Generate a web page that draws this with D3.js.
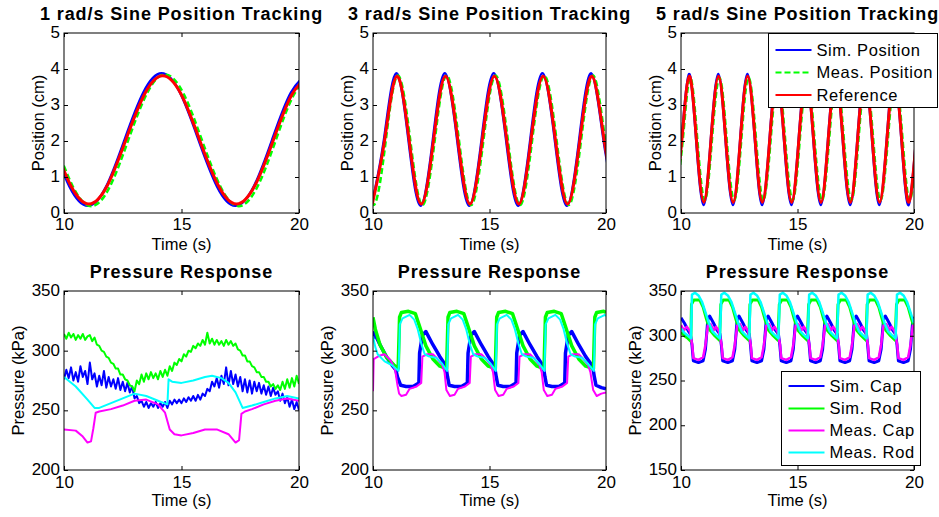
<!DOCTYPE html>
<html>
<head>
<meta charset="utf-8">
<script src="https://cdn.jsdelivr.net/npm/d3@7"></script>
<style>
  body { margin: 0px; background: white; }
  text { font-family: "Liberation Sans", Arial, Helvetica, sans-serif; fill: black; }
</style>
</head>
<body>
<svg id="fig" width="939" height="517"></svg>
<script>
// ---------- data ----------
var xTicks = [10, 15, 20];
var posTicks = [0, 1, 2, 3, 4, 5];
var presTicks = [200, 250, 300, 350];
var presTicks6 = [150, 200, 250, 300, 350];
var topTitles = ["1 rad/s Sine Position Tracking", "3 rad/s Sine Position Tracking", "5 rad/s Sine Position Tracking"];
var posNames = ["Sim. Position", "Meas. Position", "Reference"];
var presNames = ["Sim. Cap", "Sim. Rod", "Meas. Cap", "Meas. Rod"];

// 1 rad/s position
var p1RefT = [9.49, 10.28, 11.06, 11.85, 12.63, 13.42, 14.2, 14.99, 15.77, 16.56, 17.34, 18.13, 18.91, 19.7, 20.48];
var p1RefV = [2.03, 0.77, 0.25, 0.77, 2.03, 3.29, 3.81, 3.29, 2.03, 0.77, 0.25, 0.77, 2.03, 3.29, 3.81];
var p1SimT = [9.44, 10.23, 11.01, 11.8, 12.58, 13.37, 14.15, 14.94, 15.72, 16.51, 17.29, 18.08, 18.86, 19.65, 20.43];
var p1SimV = [2.04, 0.74, 0.2, 0.74, 2.04, 3.34, 3.88, 3.34, 2.04, 0.74, 0.2, 0.74, 2.04, 3.34, 3.88];
var p1MeasT = [9.59, 10.38, 11.16, 11.95, 12.73, 13.52, 14.3, 15.09, 15.87, 16.66, 17.44, 18.23, 19.01, 19.8, 20.58];
var p1MeasV = [2.02, 0.73, 0.19, 0.73, 2.02, 3.31, 3.85, 3.31, 2.02, 0.73, 0.19, 0.73, 2.02, 3.31, 3.85];

// 3 rad/s position
var p2RefT = [9.97, 10.5, 11.02, 11.55, 12.07, 12.6, 13.11, 13.64, 14.16, 14.69, 15.21, 15.74, 16.26, 16.78, 17.3, 17.83, 18.35, 18.88, 19.4, 19.92, 20.45];
var p2RefV = [0.25, 2.03, 3.8, 2.03, 0.25, 2.03, 3.8, 2.03, 0.25, 2.03, 3.8, 2.03, 0.25, 2.03, 3.8, 2.03, 0.25, 2.03, 3.8, 2.03, 0.25];
var p2SimT = [9.94, 10.47, 10.99, 11.52, 12.04, 12.57, 13.08, 13.61, 14.13, 14.66, 15.18, 15.71, 16.23, 16.75, 17.27, 17.8, 18.32, 18.85, 19.37, 19.89, 20.42];
var p2SimV = [0.2, 2.04, 3.88, 2.04, 0.2, 2.04, 3.88, 2.04, 0.2, 2.04, 3.88, 2.04, 0.2, 2.04, 3.88, 2.04, 0.2, 2.04, 3.88, 2.04, 0.2];
var p2MeasT = [9.5, 10.02, 10.55, 11.07, 11.6, 12.12, 12.65, 13.16, 13.69, 14.21, 14.74, 15.26, 15.79, 16.31, 16.83, 17.35, 17.88, 18.4, 18.93, 19.45, 19.97, 20.5];
var p2MeasV = [2.02, 0.22, 2.02, 3.82, 2.02, 0.22, 2.02, 3.82, 2.02, 0.22, 2.02, 3.82, 2.02, 0.22, 2.02, 3.82, 2.02, 0.22, 2.02, 3.82, 2.02, 0.22];

// 5 rad/s position
var p3RefT = [9.72, 10.04, 10.35, 10.66, 10.98, 11.29, 11.61, 11.92, 12.24, 12.55, 12.86, 13.18, 13.49, 13.81, 14.12, 14.43, 14.75, 15.06, 15.38, 15.69, 16.01, 16.32, 16.64, 16.95, 17.27, 17.58, 17.89, 18.21, 18.52, 18.84, 19.15, 19.47, 19.78, 20.1, 20.41];
var p3RefV = [0.3, 2.05, 3.8, 2.05, 0.3, 2.05, 3.8, 2.05, 0.3, 2.05, 3.8, 2.05, 0.3, 2.05, 3.8, 2.05, 0.3, 2.05, 3.8, 2.05, 0.3, 2.05, 3.8, 2.05, 0.3, 2.05, 3.8, 2.05, 0.3, 2.05, 3.8, 2.05, 0.3, 2.05, 3.8];
var p3SimT = [9.71, 10.03, 10.34, 10.65, 10.97, 11.28, 11.6, 11.91, 12.23, 12.54, 12.85, 13.17, 13.48, 13.8, 14.11, 14.42, 14.74, 15.05, 15.37, 15.68, 16.0, 16.31, 16.63, 16.94, 17.26, 17.57, 17.88, 18.2, 18.51, 18.83, 19.14, 19.46, 19.77, 20.09, 20.4];
var p3SimV = [0.22, 2.04, 3.86, 2.04, 0.22, 2.04, 3.86, 2.04, 0.22, 2.04, 3.86, 2.04, 0.22, 2.04, 3.86, 2.04, 0.22, 2.04, 3.86, 2.04, 0.22, 2.04, 3.86, 2.04, 0.22, 2.04, 3.86, 2.04, 0.22, 2.04, 3.86, 2.04, 0.22, 2.04, 3.86];
var p3MeasT = [9.76, 10.08, 10.39, 10.7, 11.02, 11.33, 11.65, 11.96, 12.28, 12.59, 12.9, 13.22, 13.53, 13.85, 14.16, 14.47, 14.79, 15.1, 15.42, 15.73, 16.05, 16.36, 16.68, 16.99, 17.31, 17.62, 17.93, 18.25, 18.56, 18.88, 19.19, 19.51, 19.82, 20.14, 20.45];
var p3MeasV = [0.35, 2.05, 3.76, 2.05, 0.35, 2.05, 3.76, 2.05, 0.35, 2.05, 3.76, 2.05, 0.35, 2.05, 3.76, 2.05, 0.35, 2.05, 3.76, 2.05, 0.35, 2.05, 3.76, 2.05, 0.35, 2.05, 3.76, 2.05, 0.35, 2.05, 3.76, 2.05, 0.35, 2.05, 3.76];

// 1 rad/s pressure (sim traces sampled every 0.1 s)
var p4T = [10,10.1,10.2,10.3,10.4,10.5,10.6,10.7,10.8,10.9,11,11.1,11.2,11.3,11.4,11.5,11.6,11.7,11.8,11.9,
  12,12.1,12.2,12.3,12.4,12.5,12.6,12.7,12.8,12.9,13,13.1,13.2,13.3,13.4,13.5,13.6,13.7,13.8,13.9,
  14,14.1,14.2,14.3,14.4,14.5,14.6,14.7,14.8,14.9,15,15.1,15.2,15.3,15.4,15.5,15.6,15.7,15.8,15.9,
  16,16.1,16.2,16.3,16.4,16.5,16.6,16.7,16.8,16.9,17,17.1,17.2,17.3,17.4,17.5,17.6,17.7,17.8,17.9,
  18,18.1,18.2,18.3,18.4,18.5,18.6,18.7,18.8,18.9,19,19.1,19.2,19.3,19.4,19.5,19.6,19.7,19.8,19.9,20];
var p4SimCap = [276,284,277,286,275,282,274,287,278,283, 272,290,276,281,270,279,271,283,269,278,
  270,276,268,277,267,274,266,273,265,270, 260,262,256,258,253,257,252,256,253,257,
  252,256,253,257,252,258,255,259,256,259, 256,260,257,261,258,262,258,263,259,264,
  262,268,266,274,270,277,269,279,272,286, 271,283,272,280,270,278,266,276,265,275,
  264,274,266,273,264,271,263,270,262,269, 263,266,258,264,256,261,253,259,251,257, 250];
var p4SimRod = [314,310,315,311,314,309,313,310,314,309, 312,313,308,311,305,304,300,299,295,294,
  290,289,285,285,280,280,276,275,271,270, 266,275,272,280,274,281,276,282,277,281,
  276,283,278,284,279,287,283,290,288,293, 291,297,295,300,299,304,302,306,304,309,
  305,315,306,310,305,309,305,308,304,309, 305,308,304,306,301,300,296,296,291,291,
  287,286,282,282,278,278,274,274,270,272, 268,271,267,274,268,276,269,277,270,279, 272];
var p4MeasCapT = [10, 10.5, 10.8, 11.0, 11.15, 11.25, 11.35, 11.5, 12, 12.5, 13, 13.5, 14, 14.3, 14.5, 14.7, 15, 15.5, 16, 16.5, 17, 17.3, 17.45, 17.55, 17.7, 18, 18.5, 19, 19.5, 20];
var p4MeasCap = [234, 233, 228, 223, 224, 235, 248, 249, 251, 254, 258, 259, 255, 248, 234, 230, 229, 231, 234, 234, 230, 223, 225, 247, 249, 251, 255, 258, 260, 258];
var p4MeasRodT = [10, 10.5, 11, 11.3, 11.5, 12, 12.5, 13, 13.5, 14, 14.4, 14.45, 14.6, 15, 15.5, 16, 16.3, 16.7, 17, 17.3, 17.6, 18, 18.5, 19, 19.5, 20];
var p4MeasRod = [278, 270, 259, 252, 252, 256, 260, 264, 262, 258, 255, 276, 274, 273, 275, 278, 279, 277, 273, 265, 252, 254, 257, 260, 262, 260];

// 3 rad/s pressure
var p5SimCapT = [10.0, 10.05, 10.3, 10.6, 10.85, 10.98, 11.05, 11.19, 11.42, 11.72, 11.97, 12.0, 12.12, 12.27, 12.57, 12.87, 13.07,
  13.15, 13.2, 13.27, 13.5, 13.8, 14.05, 14.08, 14.2, 14.35, 14.65, 14.95, 15.15,
  15.24, 15.29, 15.36, 15.59, 15.89, 16.14, 16.17, 16.29, 16.44, 16.74, 17.04, 17.24,
  17.33, 17.38, 17.45, 17.68, 17.98, 18.23, 18.26, 18.38, 18.53, 18.83, 19.13, 19.35,
  19.45, 19.5, 19.57, 19.8, 20.0];
var p5SimCap = [310, 315, 305, 294, 287, 284, 278, 271, 270, 270, 273, 298, 313, 316, 305, 295, 289,
  284, 278, 271, 270, 270, 273, 298, 313, 316, 305, 295, 289,
  284, 278, 271, 270, 270, 273, 298, 313, 316, 305, 295, 289,
  284, 278, 271, 270, 270, 273, 298, 313, 316, 305, 295, 289,
  284, 278, 271, 269, 268];
var p5SimRodT = [10.0, 10.1, 10.3, 10.6, 10.9, 11.08,
  11.14, 11.22, 11.52, 11.82, 11.97, 12.27, 12.57, 12.87, 13.16,
  13.22, 13.3, 13.6, 13.9, 14.05, 14.35, 14.65, 14.95, 15.25,
  15.31, 15.39, 15.69, 15.99, 16.14, 16.44, 16.74, 17.04, 17.34,
  17.4, 17.48, 17.78, 18.08, 18.23, 18.53, 18.83, 19.13, 19.46,
  19.52, 19.6, 19.9, 20.0];
var p5SimRod = [328, 318, 305, 294, 288, 285,
  328, 332, 333, 331, 322, 304, 293, 287, 285,
  328, 332, 333, 331, 322, 304, 293, 287, 285,
  328, 332, 333, 331, 322, 304, 293, 287, 285,
  328, 332, 333, 331, 322, 304, 293, 287, 285,
  328, 332, 333, 332];
var p5MeasCapT = [10.0, 10.03, 10.3, 10.5, 10.75, 10.95, 11.05, 11.12,
  11.22, 11.42, 11.57, 11.87, 12.07, 12.12, 12.32, 12.57, 12.77, 12.97, 13.07, 13.15,
  13.3, 13.5, 13.65, 13.95, 14.15, 14.2, 14.4, 14.65, 14.85, 15.05, 15.15, 15.24,
  15.39, 15.59, 15.74, 16.04, 16.24, 16.29, 16.49, 16.74, 16.94, 17.14, 17.24, 17.33,
  17.48, 17.68, 17.83, 18.13, 18.33, 18.38, 18.58, 18.83, 19.03, 19.23, 19.33, 19.45,
  19.6, 19.8, 20.0];
var p5MeasCap = [266, 293, 296, 297, 292, 284, 271, 264,
  262, 263, 268, 270, 273, 295, 297, 297, 293, 288, 282, 267,
  262, 263, 268, 270, 273, 295, 297, 297, 293, 288, 282, 267,
  262, 263, 268, 270, 273, 295, 297, 297, 293, 288, 282, 267,
  262, 263, 268, 270, 273, 295, 297, 297, 293, 288, 282, 267,
  262, 264, 265];
var p5MeasRodT = [10.0, 10.1, 10.2, 10.5, 10.8, 11.1,
  11.15, 11.27, 11.57, 11.77, 11.92, 12.07, 12.22, 12.42, 12.72, 12.97, 13.18,
  13.23, 13.35, 13.65, 13.85, 14.0, 14.15, 14.3, 14.5, 14.8, 15.05, 15.27,
  15.32, 15.44, 15.74, 15.94, 16.09, 16.24, 16.39, 16.59, 16.89, 17.14, 17.36,
  17.41, 17.53, 17.83, 18.03, 18.18, 18.33, 18.48, 18.68, 18.98, 19.23, 19.48,
  19.53, 19.65, 19.95, 20.0];
var p5MeasRod = [312, 303, 297, 291, 288, 283,
  322, 327, 330, 326, 318, 306, 297, 295, 294, 289, 283,
  322, 327, 330, 326, 318, 306, 297, 295, 294, 289, 283,
  322, 327, 330, 326, 318, 306, 297, 295, 294, 289, 283,
  322, 327, 330, 326, 318, 306, 297, 295, 294, 289, 283,
  322, 327, 330, 329];

// 5 rad/s pressure
var p6SimCapT = [10.0, 10.15, 10.3, 10.4,
  10.47, 10.53, 10.75, 10.95, 11.05, 11.15, 11.23, 11.4, 11.55, 11.67,
  11.73, 11.79, 12.01, 12.21, 12.31, 12.41, 12.49, 12.66, 12.81, 12.93,
  12.98, 13.04, 13.26, 13.46, 13.56, 13.66, 13.74, 13.91, 14.06, 14.18,
  14.24, 14.3, 14.52, 14.72, 14.82, 14.92, 15.0, 15.17, 15.32, 15.44,
  15.5, 15.56, 15.78, 15.98, 16.08, 16.18, 16.26, 16.43, 16.58, 16.7,
  16.76, 16.82, 17.04, 17.24, 17.34, 17.44, 17.52, 17.69, 17.84, 17.96,
  18.01, 18.07, 18.29, 18.49, 18.59, 18.69, 18.77, 18.94, 19.09, 19.21,
  19.27, 19.33, 19.55, 19.75, 19.85, 19.95, 20.0];
var p6SimCap = [320, 314, 306, 302,
  290, 272, 270, 272, 285, 318, 322, 314, 306, 302,
  290, 272, 270, 272, 285, 318, 322, 314, 306, 302,
  290, 272, 270, 272, 285, 318, 322, 314, 306, 302,
  290, 272, 270, 272, 285, 318, 322, 314, 306, 302,
  290, 272, 270, 272, 285, 318, 322, 314, 306, 302,
  290, 272, 270, 272, 285, 318, 322, 314, 306, 302,
  290, 272, 270, 272, 285, 318, 322, 314, 306, 302,
  290, 272, 270, 272, 285, 318, 321];
var p6SimRodT = [10.0, 10.15, 10.3, 10.42,
  10.45, 10.55, 10.8, 10.95, 11.1, 11.25, 11.45, 11.65,
  11.71, 11.81, 12.06, 12.21, 12.36, 12.51, 12.71, 12.91,
  12.96, 13.06, 13.31, 13.46, 13.61, 13.76, 13.96, 14.16,
  14.22, 14.32, 14.57, 14.72, 14.87, 15.02, 15.22, 15.42,
  15.48, 15.58, 15.83, 15.98, 16.13, 16.28, 16.48, 16.68,
  16.74, 16.84, 17.09, 17.24, 17.39, 17.54, 17.74, 17.94,
  17.99, 18.09, 18.34, 18.49, 18.64, 18.79, 18.99, 19.19,
  19.25, 19.35, 19.6, 19.75, 19.9, 20.0];
var p6SimRod = [304, 300, 297, 294,
  335, 340, 340, 332, 318, 306, 300, 295,
  335, 340, 340, 332, 318, 306, 300, 295,
  335, 340, 340, 332, 318, 306, 300, 295,
  335, 340, 340, 332, 318, 306, 300, 295,
  335, 340, 340, 332, 318, 306, 300, 295,
  335, 340, 340, 332, 318, 306, 300, 295,
  335, 340, 340, 332, 318, 306, 300, 295,
  335, 340, 340, 332, 318, 310];
var p6MeasCapT = [10.0, 10.12, 10.25, 10.38,
  10.48, 10.53, 10.75, 10.95, 11.05, 11.15, 11.27, 11.4, 11.5, 11.63,
  11.74, 11.79, 12.01, 12.21, 12.31, 12.41, 12.53, 12.66, 12.76, 12.89,
  12.99, 13.04, 13.26, 13.46, 13.56, 13.66, 13.78, 13.91, 14.01, 14.14,
  14.25, 14.3, 14.52, 14.72, 14.82, 14.92, 15.04, 15.17, 15.27, 15.4,
  15.51, 15.56, 15.78, 15.98, 16.08, 16.18, 16.3, 16.43, 16.53, 16.66,
  16.77, 16.82, 17.04, 17.24, 17.34, 17.44, 17.56, 17.69, 17.79, 17.92,
  18.02, 18.07, 18.29, 18.49, 18.59, 18.69, 18.81, 18.94, 19.04, 19.17,
  19.28, 19.33, 19.55, 19.75, 19.85, 19.95, 20.0];
var p6MeasCap = [312, 306, 310, 305,
  290, 275, 273, 276, 290, 311, 313, 306, 310, 305,
  290, 275, 273, 276, 290, 311, 313, 306, 310, 305,
  290, 275, 273, 276, 290, 311, 313, 306, 310, 305,
  290, 275, 273, 276, 290, 311, 313, 306, 310, 305,
  290, 275, 273, 276, 290, 311, 313, 306, 310, 305,
  290, 275, 273, 276, 290, 311, 313, 306, 310, 305,
  290, 275, 273, 276, 290, 311, 313, 306, 310, 305,
  290, 275, 273, 276, 290, 311, 312];
var p6MeasRodT = [10.0, 10.15, 10.3, 10.43,
  10.47, 10.6, 10.75, 10.9, 11.05, 11.2, 11.35, 11.5, 11.67,
  11.73, 11.86, 12.01, 12.16, 12.31, 12.46, 12.61, 12.76, 12.93,
  12.98, 13.11, 13.26, 13.41, 13.56, 13.71, 13.86, 14.01, 14.18,
  14.24, 14.37, 14.52, 14.67, 14.82, 14.97, 15.12, 15.27, 15.44,
  15.5, 15.63, 15.78, 15.93, 16.08, 16.23, 16.38, 16.53, 16.7,
  16.76, 16.89, 17.04, 17.19, 17.34, 17.49, 17.64, 17.79, 17.96,
  18.01, 18.14, 18.29, 18.44, 18.59, 18.74, 18.89, 19.04, 19.21,
  19.27, 19.4, 19.55, 19.7, 19.85, 20.0];
var p6MeasRod = [308, 303, 300, 297,
  346, 348, 345, 338, 326, 314, 305, 301, 297,
  346, 348, 345, 338, 326, 314, 305, 301, 297,
  346, 348, 345, 338, 326, 314, 305, 301, 297,
  346, 348, 345, 338, 326, 314, 305, 301, 297,
  346, 348, 345, 338, 326, 314, 305, 301, 297,
  346, 348, 345, 338, 326, 314, 305, 301, 297,
  346, 348, 345, 338, 326, 314, 305, 301, 297,
  346, 348, 345, 338, 326, 314];

// ---------- drawing ----------
var svg = d3.select("#fig");
var colLeft = [64, 373, 681], colRight = [299, 606, 914];
var rowTop = [33, 291], rowBottom = [213, 470];

function drawPanel(p) {
  var left = colLeft[p.col], right = colRight[p.col];
  var top = rowTop[p.row], bottom = rowBottom[p.row];
  var x = d3.scaleLinear().domain([10, 20]).range([left, right]);
  var y = d3.scaleLinear().domain(p.yDomain).range([bottom, top]);
  var clipId = "clip" + p.row + p.col;

  svg.append("clipPath").attr("id", clipId).append("rect")
    .attr("x", left).attr("y", top).attr("width", right - left).attr("height", bottom - top);

  var lines = svg.append("g").attr("clip-path", "url(#" + clipId + ")");
  p.series.forEach(function (s) {
    var line = d3.line().x(d => x(d[0])).y(d => y(d[1])).curve(p.curve);
    lines.append("path")
      .datum(d3.zip(s.t, s.v))
      .attr("d", line)
      .attr("fill", "none")
      .attr("stroke", s.color)
      .attr("stroke-width", s.width)
      .attr("stroke-dasharray", s.dash || null)
      .attr("stroke-linejoin", "round");
  });

  // ticks point inward on all four sides, like matlab's box
  var fmt = d3.format("d");
  var ax = svg.append("g");
  ax.append("g").attr("transform", "translate(0," + bottom + ")")
    .call(d3.axisBottom(x).tickValues(xTicks).tickFormat(fmt).tickSize(-4).tickSizeOuter(0).tickPadding(p.row == 0 ? 5 : 6));
  ax.append("g").attr("transform", "translate(0," + top + ")")
    .call(d3.axisTop(x).tickValues(xTicks).tickSize(-4).tickSizeOuter(0).tickFormat(""));
  var yAx = ax.append("g").attr("transform", "translate(" + left + ",0)")
    .call(d3.axisLeft(y).tickValues(p.yTicks).tickFormat(fmt).tickSize(-4).tickSizeOuter(0).tickPadding(4));
  yAx.selectAll("text").attr("dy", "0.26em");
  ax.append("g").attr("transform", "translate(" + right + ",0)")
    .call(d3.axisRight(y).tickValues(p.yTicks).tickSize(-4).tickSizeOuter(0).tickFormat(""));
  ax.selectAll(".domain").remove();
  ax.selectAll("g").attr("font-family", null).attr("font-size", 17);
  ax.selectAll("text").attr("fill", "black");
  ax.selectAll(".tick line").attr("stroke", "black");

  svg.append("rect").attr("x", left).attr("y", top)
    .attr("width", right - left).attr("height", bottom - top)
    .attr("fill", "none").attr("stroke", "black").attr("stroke-width", 1);

  // title and axis labels
  svg.append("text").attr("x", (left + right) / 2).attr("y", p.row == 0 ? 20 : 278)
    .attr("text-anchor", "middle").attr("font-weight", "bold").attr("font-size", 18)
    .attr("letter-spacing", "0.9px").text(p.title);
  svg.append("text").attr("x", (left + right) / 2).attr("y", p.row == 0 ? 250 : 506)
    .attr("text-anchor", "middle").attr("font-size", 16.5).text("Time (s)");
  var ly = (top + bottom) / 2, lx = left - (p.row == 0 ? 20 : 40);
  svg.append("text").attr("transform", "translate(" + lx + "," + ly + ") rotate(-90)")
    .attr("text-anchor", "middle").attr("font-size", 16.5).text(p.ylabel);
}

function drawLegend(box, rows, items) {
  var g = svg.append("g");
  g.append("rect").attr("x", box[0]).attr("y", box[1]).attr("width", box[2]).attr("height", box[3])
    .attr("fill", "white").attr("stroke", "black").attr("stroke-width", 1);
  items.forEach(function (it, i) {
    g.append("line").attr("x1", box[0] + 7).attr("x2", box[0] + 43)
      .attr("y1", rows[i]).attr("y2", rows[i])
      .attr("stroke", it.color).attr("stroke-width", 2).attr("stroke-dasharray", it.dash || null);
    g.append("text").attr("x", box[0] + 48).attr("y", rows[i]).attr("dy", "0.36em")
      .attr("font-size", 16.5).attr("letter-spacing", "0.6px").text(it.name);
  });
}

var blue = "#0000ff", green = "#00ff00", red = "#ff0000", magenta = "#ff00ff", cyan = "#00ffff";

function posSeries(simT, simV, measT, measV, refT, refV) {
  return [
    { t: simT, v: simV, color: blue, width: 2.5 },
    { t: measT, v: measV, color: green, width: 2.5, dash: "6,3" },
    { t: refT, v: refV, color: red, width: 3 }
  ];
}

drawPanel({ row: 0, col: 0, yDomain: [0, 5], yTicks: posTicks, curve: d3.curveNatural, title: topTitles[0], ylabel: "Position (cm)",
  series: posSeries(p1SimT, p1SimV, p1MeasT, p1MeasV, p1RefT, p1RefV) });
drawPanel({ row: 0, col: 1, yDomain: [0, 5], yTicks: posTicks, curve: d3.curveNatural, title: topTitles[1], ylabel: "Position (cm)",
  series: posSeries(p2SimT, p2SimV, p2MeasT, p2MeasV, p2RefT, p2RefV) });
drawPanel({ row: 0, col: 2, yDomain: [0, 5], yTicks: posTicks, curve: d3.curveNatural, title: topTitles[2], ylabel: "Position (cm)",
  series: posSeries(p3SimT, p3SimV, p3MeasT, p3MeasV, p3RefT, p3RefV) });

drawPanel({ row: 1, col: 0, yDomain: [200, 350], yTicks: presTicks, curve: d3.curveLinear, title: "Pressure Response", ylabel: "Pressure (kPa)",
  series: [
    { t: p4T, v: p4SimCap, color: blue, width: 2 },
    { t: p4T, v: p4SimRod, color: green, width: 2 },
    { t: p4MeasCapT, v: p4MeasCap, color: magenta, width: 2 },
    { t: p4MeasRodT, v: p4MeasRod, color: cyan, width: 2 }
  ] });
drawPanel({ row: 1, col: 1, yDomain: [200, 350], yTicks: presTicks, curve: d3.curveLinear, title: "Pressure Response", ylabel: "Pressure (kPa)",
  series: [
    { t: p5SimCapT, v: p5SimCap, color: blue, width: 3.5 },
    { t: p5SimRodT, v: p5SimRod, color: green, width: 3.5 },
    { t: p5MeasCapT, v: p5MeasCap, color: magenta, width: 2 },
    { t: p5MeasRodT, v: p5MeasRod, color: cyan, width: 2 }
  ] });
drawPanel({ row: 1, col: 2, yDomain: [150, 350], yTicks: presTicks6, curve: d3.curveLinear, title: "Pressure Response", ylabel: "Pressure (kPa)",
  series: [
    { t: p6SimCapT, v: p6SimCap, color: blue, width: 3 },
    { t: p6SimRodT, v: p6SimRod, color: green, width: 3 },
    { t: p6MeasCapT, v: p6MeasCap, color: magenta, width: 2.5 },
    { t: p6MeasRodT, v: p6MeasRod, color: cyan, width: 2.5 }
  ] });

// legends
drawLegend([768.5, 33.5, 169, 74], [50, 72.5, 95], [
  { name: posNames[0], color: blue },
  { name: posNames[1], color: green, dash: "6,3" },
  { name: posNames[2], color: red }
]);
drawLegend([781.5, 371.5, 139, 94], [386, 408.5, 430.5, 452.5], [
  { name: presNames[0], color: blue },
  { name: presNames[1], color: green },
  { name: presNames[2], color: magenta },
  { name: presNames[3], color: cyan }
]);
</script>
</body>
</html>
